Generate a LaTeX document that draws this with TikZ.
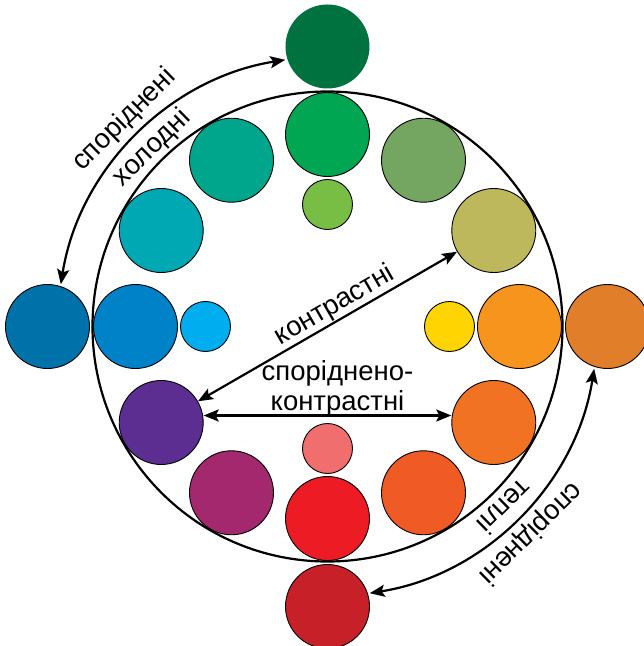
\documentclass[tikz,border=0pt]{standalone}
\usepackage{fontspec}
\setmainfont{Liberation Sans}
\usetikzlibrary{arrows.meta}
\definecolor{cDarkGreen}{RGB}{0,114,63}
\definecolor{cGreen}{RGB}{0,166,81}
\definecolor{cLime}{RGB}{120,190,68}
\definecolor{cOliveGreen}{RGB}{116,166,97}
\definecolor{cOlive}{RGB}{189,184,92}
\definecolor{cOrange}{RGB}{247,148,29}
\definecolor{cOuterOrange}{RGB}{224,126,42}
\definecolor{cYellow}{RGB}{255,212,0}
\definecolor{cOrangeB}{RGB}{242,114,36}
\definecolor{cRedOrange}{RGB}{240,90,36}
\definecolor{cRed}{RGB}{237,28,36}
\definecolor{cSalmon}{RGB}{240,110,110}
\definecolor{cDarkRed}{RGB}{200,32,40}
\definecolor{cMagenta}{RGB}{163,40,110}
\definecolor{cPurple}{RGB}{92,46,145}
\definecolor{cBlue}{RGB}{0,130,200}
\definecolor{cOuterBlue}{RGB}{0,114,170}
\definecolor{cLightBlue}{RGB}{0,174,239}
\definecolor{cTeal}{RGB}{0,168,180}
\definecolor{cTealGreen}{RGB}{0,166,140}
\begin{document}
\begin{tikzpicture}[x=1pt,y=1pt,
  disc/.style={circle, inner sep=0pt, minimum size=84pt, draw=black, line width=0.9pt},
  smalldisc/.style={disc, minimum size=50pt},
  arr/.style={line width=2.2pt, {Stealth[length=15pt,width=12pt,inset=3pt]}-{Stealth[length=15pt,width=12pt,inset=3pt]}},
  lbl/.style={font=\fontsize{27.5}{31}\selectfont, inner sep=0pt}]
\useasboundingbox (-327.5,-319.5) rectangle (316.5,326.5);

% ring of twelve
\node[disc, fill=cGreen]      (r90)  at (90:192)  {};
\node[disc, fill=cOliveGreen] (r60)  at (60:192)  {};
\node[disc, fill=cOlive]      (r30)  at (30:192)  {};
\node[disc, fill=cOrange]     (r0)   at (0:192)   {};
\node[disc, fill=cOrangeB]    (r330) at (-30:192) {};
\node[disc, fill=cRedOrange]  (r300) at (-60:192) {};
\node[disc, fill=cRed]        (r270) at (-90:192) {};
\node[disc, fill=cMagenta]    (r240) at (-120:192){};
\node[disc, fill=cPurple]     (r210) at (-150:192){};
\node[disc, fill=cBlue]       (r180) at (180:192) {};
\node[disc, fill=cTeal]       (r150) at (150:192) {};
\node[disc, fill=cTealGreen]  (r120) at (120:192) {};

% small inner
\node[smalldisc, fill=cLime]      (s90)  at (90:122)  {};
\node[smalldisc, fill=cYellow]    (s0)   at (0:122)   {};
\node[smalldisc, fill=cSalmon]    (s270) at (-90:122) {};
\node[smalldisc, fill=cLightBlue] (s180) at (180:122) {};

% outer
\node[disc, fill=cDarkGreen, draw=none] (o90)  at (90:280)  {};
\node[disc, fill=cOuterOrange]          (o0)   at (0:280)   {};
\node[disc, fill=cDarkRed]              (o270) at (-90:280) {};
\node[disc, fill=cOuterBlue]            (o180) at (180:280) {};

% big circle
\coordinate (ctr) at (0,0);
\draw[line width=2.2pt] (ctr) circle[radius=235];

% arcs
\coordinate (coldA) at (171:270);
\coordinate (coldB) at (99:270);
\coordinate (warmA) at (-9:270);
\coordinate (warmB) at (-81:270);
\draw[arr] (coldA) arc[start angle=171, end angle=99, radius=270];
\draw[arr] (warmA) arc[start angle=-9, end angle=-81, radius=270];

\node[lbl, rotate=44.5, anchor=base]   (tc1) at (134.5:282.5) {споріднені};
\node[lbl, rotate=44.5, anchor=base]   (tc2) at (134.5:243) {холодні};
\node[lbl, rotate=-135.5, anchor=base] (tw1) at (-45.5:282.5) {споріднені};
\node[lbl, rotate=-135.5, anchor=base] (tw2) at (-45.5:243) {теплі};

% contrast arrows
\draw[arr] (r210) -- (r30);
\node[lbl, rotate=30, anchor=base] (tk) at (10.75,14.9) {контрастні};
\draw[arr] ([yshift=7pt]r210.east) -- ([yshift=7pt]r330.west);
\node[lbl, anchor=base] (ts1) at (10,-53.5) {споріднено-};
\node[lbl, anchor=base] (ts2) at (10,-83.5) {контрастні};
\end{tikzpicture}
\end{document}
